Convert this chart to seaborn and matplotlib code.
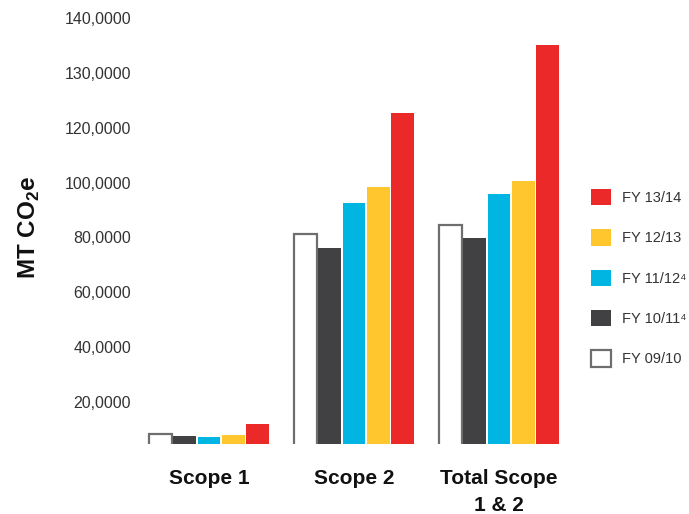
import matplotlib
matplotlib.use("Agg")
import matplotlib.pyplot as plt
from matplotlib.patches import Patch
import seaborn as sns
import pandas as pd

# Emissions by scope and financial year (MT CO2e)
categories = ["Scope 1", "Scope 2", "Total Scope\n1 & 2"]
years = ["FY 09/10", "FY 10/11\u2074", "FY 11/12\u2074", "FY 12/13", "FY 13/14"]
fy0910 = [8100, 81100, 84500]
fy1011 = [7600, 76100, 79700]
fy1112 = [7100, 92500, 95800]
fy1213 = [8000, 98400, 100600]
fy1314 = [11900, 125400, 150200]
colors = ["#FFFFFF", "#414042", "#00B5E2", "#FFC62E", "#EC2929"]

ytick_values = [20000, 40000, 60000, 80000, 100000, 120000, 140000, 160000]
ytick_labels = ["20,0000", "40,0000", "60,0000", "80,0000",
                "100,0000", "120,0000", "130,0000", "140,0000"]

series = [fy0910, fy1011, fy1112, fy1213, fy1314]
df = pd.DataFrame({
    "category": [c for s in series for c in categories],
    "year": [y for y, s in zip(years, series) for _ in categories],
    "value": [v for s in series for v in s],
})

sns.set_theme(style="white")
plt.rcParams["font.family"] = ["Liberation Sans", "DejaVu Sans"]
plt.rcParams["mathtext.fontset"] = "custom"
plt.rcParams["mathtext.bf"] = "Liberation Sans:bold"
plt.rcParams["mathtext.rm"] = "Liberation Sans:bold"

W, H = 689, 514
fig = plt.figure(figsize=(W / 100, H / 100), dpi=100)
ax = fig.add_axes([136.5 / W, 70 / H, 442.25 / W, 434 / H])

sns.barplot(data=df, x="category", y="value", hue="year",
            order=categories, hue_order=years, palette=colors,
            width=0.835, gap=0.06, linewidth=0, saturation=1,
            legend=False, ax=ax)

# outline the open (white) bars
for bar in ax.containers[0]:
    bar.set_edgecolor("#6E6E6E")
    bar.set_linewidth(1.6)

ax.set_xlim(-0.5, 2.55)
ax.set_ylim(4560, 163000)
ax.set_yticks(ytick_values)
ax.set_yticklabels(ytick_labels, fontsize=11.5, color="#333333")
ax.tick_params(axis="y", length=0, pad=4)
ax.tick_params(axis="x", length=0, pad=18)
ax.set_xticks(range(len(categories)))
ax.set_xticklabels(categories, fontsize=15, fontweight="bold",
                   color="#111111", linespacing=1.52)
ax.set_xlabel("")
ax.set_ylabel("")
sns.despine(ax=ax, left=True, bottom=True)

fig.text(29 / W, 1 - 227 / H, r"MT CO$_\mathbf{2}$e", rotation=90,
         ha="center", va="center", fontsize=17.5, fontweight="bold",
         color="#111111")

handles = [Patch(facecolor=c, edgecolor=("#6E6E6E" if c == "#FFFFFF" else c),
                 linewidth=(1.6 if c == "#FFFFFF" else 0)) for c in colors]
leg = fig.legend(handles[::-1], years[::-1], loc="upper left",
                 bbox_to_anchor=(591 / W, 1 - 189 / H), frameon=False,
                 fontsize=10.5, handlelength=1.35, handleheight=1.35,
                 labelspacing=1.64, handletextpad=0.78, borderpad=0,
                 borderaxespad=0)
for t in leg.get_texts():
    t.set_color("#333333")

fig.savefig("out.png", dpi=100)
